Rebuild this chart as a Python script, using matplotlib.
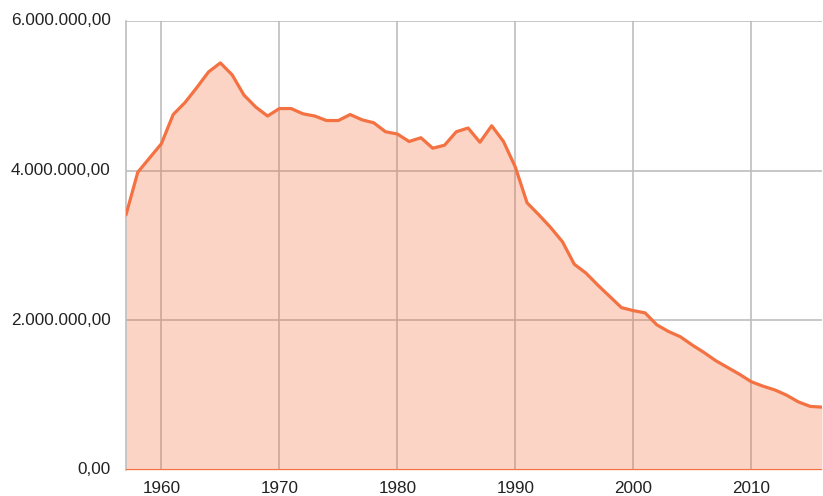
import matplotlib
matplotlib.use("Agg")
import matplotlib.pyplot as plt
from matplotlib.ticker import FuncFormatter

years = list(range(1957, 2017))
values = [
    3.41, 3.98, 4.17, 4.36, 4.75, 4.91, 5.11, 5.32, 5.44, 5.28,
    5.01, 4.85, 4.73, 4.83, 4.83, 4.76, 4.73, 4.67, 4.67, 4.75,
    4.68, 4.64, 4.52, 4.49, 4.39, 4.44, 4.30, 4.34, 4.52, 4.57,
    4.38, 4.60, 4.39, 4.05, 3.57, 3.41, 3.24, 3.05, 2.75, 2.63,
    2.47, 2.32, 2.17, 2.13, 2.10, 1.94, 1.85, 1.78, 1.67, 1.57,
    1.46, 1.37, 1.28, 1.18, 1.12, 1.07, 1.00, 0.91, 0.85, 0.84,
]
values = [v * 1_000_000 for v in values]

x_ticks = [1960, 1970, 1980, 1990, 2000, 2010]
y_ticks = [0, 2_000_000, 4_000_000, 6_000_000]

line_color = "#f47142"
grid_color = "#bdbdbd"
text_color = "#222222"

plt.rcParams["font.family"] = ["Liberation Sans", "DejaVu Sans"]

fig = plt.figure(figsize=(8.23, 4.96), dpi=100)
ax = fig.add_axes([126 / 823, 26 / 496, 696 / 823, 449 / 496])

ax.set_xlim(1957, 2016)
ax.set_ylim(0, 6_000_000)
ax.set_xticks(x_ticks)
ax.set_yticks(y_ticks)

ax.grid(True, color=grid_color, linewidth=1.2, zorder=0)
ax.set_axisbelow(True)

ax.fill_between(years, values, 0, color=line_color, alpha=0.3, linewidth=0, zorder=2)
ax.plot(years, values, color=line_color, linewidth=2.3, solid_joinstyle="round",
        solid_capstyle="round", zorder=3)
ax.axhline(0, color=line_color, linewidth=1.5, zorder=3)


def fmt(v, pos):
    s = "{:,.2f}".format(v)
    return s.replace(",", "X").replace(".", ",").replace("X", ".")


ax.yaxis.set_major_formatter(FuncFormatter(fmt))

for side in ["top", "right", "bottom"]:
    ax.spines[side].set_visible(False)
ax.spines["left"].set_color(grid_color)
ax.spines["left"].set_linewidth(1.2)

ax.tick_params(axis="both", length=0, labelsize=12.3, labelcolor=text_color)
ax.tick_params(axis="y", pad=11)
ax.tick_params(axis="x", pad=8)
for lbl in ax.get_yticklabels():
    lbl.set_verticalalignment("center")

fig.savefig("out.png", dpi=100)
